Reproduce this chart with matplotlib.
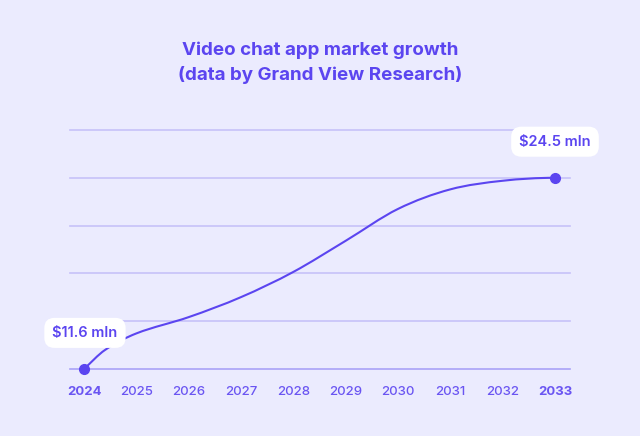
import matplotlib
matplotlib.use('Agg')
import matplotlib.pyplot as plt
from matplotlib.path import Path
from matplotlib.patches import PathPatch
import numpy as np

# data
years = [2024, 2024.4, 2025, 2026, 2027, 2028, 2029, 2030, 2031, 2032, 2033]
values = [11.6, 12.88, 14.0, 15.1, 16.45, 18.15, 20.25, 22.4, 23.72, 24.3, 24.5]
tick_years = [2024, 2025, 2026, 2027, 2028, 2029, 2030, 2031, 2032, 2033]
grid_levels = [11.6, 14.825, 18.05, 21.275, 24.5, 27.725]
labels = ["$11.6 mln", "$24.5 mln"]

bg = '#EBEBFE'
purple = '#5B45F0'

plt.rcParams['font.family'] = ['Inter', 'DejaVu Sans']

fig = plt.figure(figsize=(6.4, 4.36), dpi=100, facecolor=bg)
ax = fig.add_axes([69.5 / 640, 67 / 436, 500 / 640, 239 / 436])
ax.set_facecolor(bg)
ax.set_xlim(2024 - 14.5 / 52.33, 2033 + 14.5 / 52.33)
ax.set_ylim(grid_levels[0], grid_levels[-1])
for s in ax.spines.values():
    s.set_visible(False)

# grid lines
for i, g in enumerate(grid_levels):
    c = '#A9A2F7' if i == 0 else '#C6C1F9'
    ax.axhline(g, color=c, lw=1.2, clip_on=False, zorder=1)

# smooth curve through the points (catmull-rom style bezier path)
x = np.array(years, dtype=float)
y = np.array(values, dtype=float)
h = np.diff(x)
m = np.zeros_like(y)
m[0] = (y[1] - y[0]) / h[0]
m[-1] = 0.0
for k in range(1, len(y) - 1):
    m[k] = (y[k + 1] - y[k - 1]) / (x[k + 1] - x[k - 1])
verts = [(x[0], y[0])]
codes = [Path.MOVETO]
for k in range(len(x) - 1):
    verts += [(x[k] + h[k] / 3, y[k] + m[k] * h[k] / 3),
              (x[k + 1] - h[k] / 3, y[k + 1] - m[k + 1] * h[k] / 3),
              (x[k + 1], y[k + 1])]
    codes += [Path.CURVE4] * 3
ax.add_patch(PathPatch(Path(verts, codes), fill=False, edgecolor=purple, lw=1.5, zorder=3,
                       capstyle='round'))

ax.plot([years[0], years[-1]], [values[0], values[-1]], 'o', color=purple, ms=7, zorder=4,
        clip_on=False)

# labels
box = dict(boxstyle='round,pad=0.55,rounding_size=0.7', fc='white', ec='none')
ax.annotate(labels[0], xy=(years[0], values[0]), xytext=(0.7, 26), textcoords='offset points',
            ha='center', va='center', fontsize=10.5, fontweight='semibold', color=purple,
            bbox=box, zorder=5, annotation_clip=False)
ax.annotate(labels[1], xy=(years[-1], values[-1]), xytext=(0, 26), textcoords='offset points',
            ha='center', va='center', fontsize=10.5, fontweight='semibold', color=purple,
            bbox=box, zorder=5, annotation_clip=False)

ax.set_yticks([])
ax.set_xticks(tick_years)
ax.set_xticklabels([str(t) for t in tick_years])
ax.tick_params(axis='x', length=0, pad=12, labelsize=9.5, labelcolor='#6A55F2')
for i, lab in enumerate(ax.get_xticklabels()):
    lab.set_fontweight('bold' if i in (0, len(tick_years) - 1) else 'medium')

fig.text(0.5, 1 - 50 / 436, "Video chat app market growth", ha='center', va='center',
         fontsize=13.5, fontweight='bold', color=purple)
fig.text(0.5, 1 - 75 / 436, "(data by Grand View Research)", ha='center', va='center',
         fontsize=13.5, fontweight='bold', color=purple)

fig.savefig('out.png', dpi=100, facecolor=bg)
